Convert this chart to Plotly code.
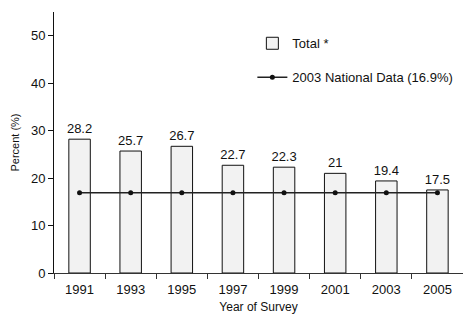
import plotly.graph_objects as go

years = ["1991", "1993", "1995", "1997", "1999", "2001", "2003", "2005"]
total = [28.2, 25.7, 26.7, 22.7, 22.3, 21, 19.4, 17.5]
total_labels = ["28.2", "25.7", "26.7", "22.7", "22.3", "21", "19.4", "17.5"]
national = [16.9] * len(years)
y_ticks = [0, 10, 20, 30, 40, 50]

FONT = "Liberation Sans, Arial, sans-serif"

fig = go.Figure()
fig.add_trace(go.Bar(
    x=years, y=total, name="Total *",
    text=total_labels, textposition="outside", cliponaxis=False,
    constraintext="none",
    textfont=dict(size=13, color="#111"),
    marker=dict(color="#f2f2f2", line=dict(color="#111", width=1)),
    width=0.42, legend="legend",
))
fig.add_trace(go.Scatter(
    x=years, y=national, name="2003 National Data (16.9%)",
    mode="lines+markers",
    line=dict(color="#222", width=1.5),
    marker=dict(color="#111", size=5),
    legend="legend2",
))

fig.update_layout(
    width=463, height=314,
    margin=dict(l=54, r=0, t=12, b=41),
    paper_bgcolor="white", plot_bgcolor="white",
    font=dict(family=FONT, size=13, color="#111"),
    showlegend=True,
    legend=dict(x=0.485, y=0.88, xanchor="left", yanchor="middle",
                bgcolor="rgba(0,0,0,0)", font=dict(size=13)),
    legend2=dict(x=0.485, y=0.75, xanchor="left", yanchor="middle",
                 bgcolor="rgba(0,0,0,0)", font=dict(size=13)),
    xaxis=dict(
        type="category", showline=True, linecolor="#333", linewidth=1,
        ticks="outside", ticklen=5, tickcolor="#333", tickson="boundaries",
        showgrid=False, zeroline=False, automargin=False,
        ticklabelstandoff=4,
        title=dict(text="Year of Survey", font=dict(size=12), standoff=10),
        tickfont=dict(size=13),
    ),
    yaxis=dict(
        range=[0, 55], tickvals=y_ticks, showline=True, linecolor="#111",
        linewidth=1, ticks="outside", ticklen=5, tickcolor="#111",
        showgrid=False, zeroline=False, automargin=False,
        title=dict(text="Percent (%)", font=dict(size=11), standoff=9),
        tickfont=dict(size=13),
    ),
)

fig.write_html("out.html", config={"displayModeBar": False},
               post_script="document.body.style.margin='0';")
